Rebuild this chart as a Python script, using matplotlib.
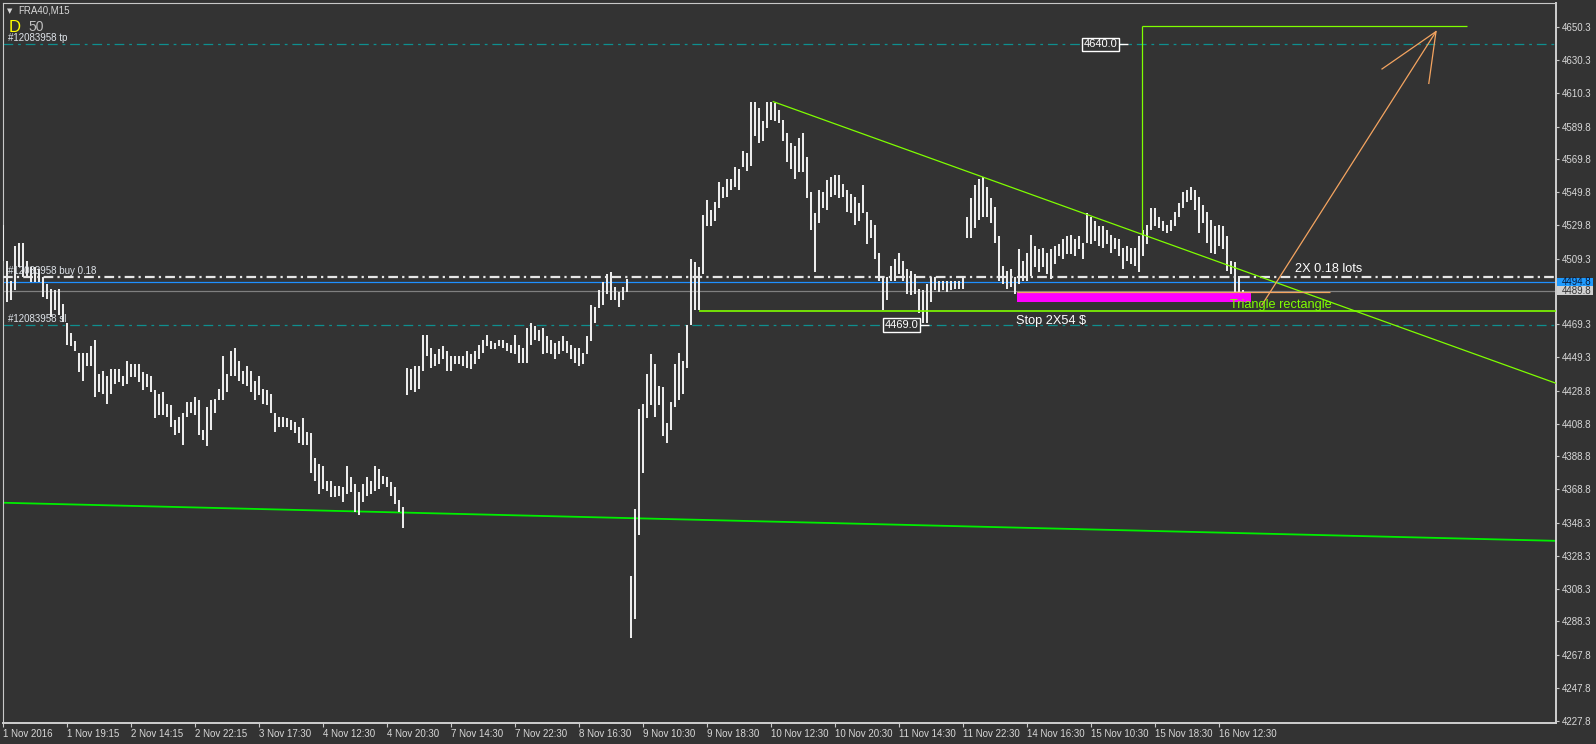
import matplotlib
matplotlib.use('Agg')
import matplotlib.pyplot as plt
from matplotlib.patches import Rectangle
from matplotlib.transforms import blended_transform_factory

plt.rcParams['font.family'] = ['Liberation Sans', 'DejaVu Sans']
plt.rcParams['lines.scale_dashes'] = False

# FRA40 M15 bars (one entry per two M15 bars)
highs = [
    4530, 4508, 4496, 4517, 4519, 4519, 4508, 4504, 4504, 4503,
    4498, 4494, 4491, 4490, 4491, 4482, 4470, 4464, 4459, 4452,
    4452, 4452, 4456, 4460, 4439, 4441, 4438, 4442, 4442, 4442,
    4438, 4447, 4445, 4445, 4445, 4440, 4439, 4438, 4429, 4427,
    4428, 4421, 4420, 4411, 4413, 4415, 4422, 4422, 4425, 4423,
    4405, 4419, 4423, 4424, 4430, 4450, 4439, 4453, 4455, 4447,
    4441, 4444, 4441, 4435, 4438, 4430, 4429, 4427, 4415, 4413,
    4413, 4412, 4411, 4410, 4407, 4412, 4404, 4403, 4388, 4384,
    4383, 4374, 4374, 4371, 4371, 4370, 4383, 4376, 4372, 4367,
    4372, 4376, 4374, 4383, 4381, 4377, 4376, 4373, 4370, 4362,
    4358, 4443, 4442, 4444, 4444, 4463, 4463, 4455, 4451, 4454,
    4456, 4453, 4450, 4450, 4450, 4450, 4453, 4451, 4453, 4457,
    4460, 4463, 4459, 4458, 4460, 4460, 4458, 4457, 4463, 4457,
    4455, 4467, 4470, 4468, 4466, 4467, 4462, 4460, 4458, 4459,
    4462, 4459, 4457, 4455, 4455, 4452, 4462, 4481, 4480, 4490,
    4495, 4500, 4501, 4492, 4489, 4492, 4497, 4316, 4357, 4418,
    4421, 4439, 4451, 4445, 4432, 4431, 4409, 4422, 4445, 4452,
    4447, 4469, 4509, 4507, 4504, 4536, 4545, 4539, 4544, 4556,
    4553, 4558, 4558, 4565, 4564, 4575, 4574, 4605, 4605, 4601,
    4593, 4605, 4605, 4604, 4600, 4594, 4586, 4580, 4578, 4583,
    4586, 4571, 4550, 4537, 4551, 4550, 4557, 4559, 4560, 4560,
    4555, 4551, 4549, 4547, 4543, 4554, 4538, 4533, 4530, 4513,
    4498, 4498, 4505, 4509, 4513, 4508, 4503, 4502, 4500, 4491,
    4490, 4494, 4498, 4498, 4496, 4496, 4496, 4496, 4496, 4496,
    4498, 4535, 4546, 4554, 4558, 4559, 4553, 4546, 4541, 4523,
    4505, 4502, 4503, 4498, 4515, 4508, 4513, 4524, 4517, 4515,
    4516, 4513, 4515, 4517, 4518, 4521, 4523, 4524, 4521, 4523,
    4519, 4537, 4535, 4532, 4529, 4529, 4527, 4524, 4522, 4521,
    4516, 4517, 4516, 4516, 4523, 4527, 4530, 4540, 4540, 4535,
    4532, 4530, 4533, 4538, 4543, 4550, 4551, 4553, 4551, 4547,
    4542, 4538, 4533, 4529, 4530, 4529, 4523, 4508, 4507, 4499,
    4490,
]
lows = [
    4508, 4483, 4484, 4490, 4504, 4498, 4498, 4495, 4495, 4495,
    4486, 4485, 4474, 4478, 4475, 4471, 4457, 4456, 4453, 4440,
    4435, 4444, 4444, 4425, 4428, 4427, 4421, 4427, 4433, 4434,
    4432, 4433, 4437, 4437, 4434, 4429, 4431, 4428, 4412, 4414,
    4414, 4413, 4407, 4402, 4403, 4396, 4413, 4415, 4414, 4402,
    4399, 4395, 4405, 4415, 4423, 4423, 4428, 4438, 4438, 4435,
    4433, 4432, 4428, 4423, 4426, 4421, 4420, 4415, 4404, 4407,
    4407, 4407, 4405, 4403, 4397, 4396, 4396, 4379, 4374, 4366,
    4369, 4368, 4364, 4364, 4365, 4361, 4366, 4367, 4355, 4353,
    4361, 4365, 4366, 4368, 4369, 4372, 4370, 4365, 4360, 4355,
    4345, 4426, 4429, 4428, 4430, 4441, 4450, 4443, 4444, 4445,
    4448, 4441, 4441, 4445, 4445, 4444, 4443, 4442, 4445, 4448,
    4452, 4456, 4454, 4454, 4456, 4455, 4453, 4452, 4451, 4446,
    4446, 4446, 4457, 4460, 4459, 4451, 4452, 4451, 4448, 4451,
    4453, 4452, 4448, 4446, 4444, 4445, 4451, 4459, 4470, 4479,
    4481, 4488, 4484, 4484, 4480, 4484, 4489, 4278, 4290, 4341,
    4379, 4412, 4420, 4413, 4420, 4401, 4397, 4405, 4419, 4423,
    4427, 4443, 4469, 4478, 4478, 4500, 4529, 4529, 4532, 4540,
    4546, 4547, 4551, 4553, 4551, 4565, 4563, 4566, 4584, 4580,
    4581, 4589, 4594, 4593, 4592, 4581, 4568, 4564, 4558, 4562,
    4562, 4546, 4527, 4501, 4531, 4540, 4539, 4547, 4548, 4546,
    4547, 4538, 4537, 4530, 4532, 4537, 4518, 4522, 4509, 4496,
    4478, 4484, 4496, 4496, 4500, 4496, 4488, 4487, 4488, 4476,
    4470, 4470, 4483, 4490, 4489, 4490, 4489, 4490, 4491, 4491,
    4491, 4522, 4522, 4528, 4533, 4535, 4535, 4531, 4519, 4496,
    4494, 4491, 4492, 4488, 4494, 4496, 4496, 4499, 4504, 4501,
    4504, 4500, 4497, 4506, 4511, 4509, 4512, 4512, 4511, 4515,
    4509, 4519, 4518, 4520, 4517, 4516, 4518, 4513, 4515, 4511,
    4503, 4508, 4506, 4505, 4501, 4511, 4518, 4527, 4529, 4528,
    4526, 4525, 4526, 4529, 4535, 4540, 4544, 4545, 4539, 4525,
    4531, 4519, 4513, 4512, 4517, 4515, 4502, 4500, 4488, 4487,
    4488,
]

time_labels = ['1 Nov 2016', '1 Nov 19:15', '2 Nov 14:15', '2 Nov 22:15', '3 Nov 17:30',
               '4 Nov 12:30', '4 Nov 20:30', '7 Nov 14:30', '7 Nov 22:30', '8 Nov 16:30',
               '9 Nov 10:30', '9 Nov 18:30', '10 Nov 12:30', '10 Nov 20:30', '11 Nov 14:30',
               '11 Nov 22:30', '14 Nov 16:30', '15 Nov 10:30', '15 Nov 18:30', '16 Nov 12:30']
price_ticks = [4650.3, 4630.3, 4610.3, 4589.8, 4569.8, 4549.8, 4529.8, 4509.3, 4469.3,
               4449.3, 4428.8, 4408.8, 4388.8, 4368.8, 4348.3, 4328.3, 4308.3, 4288.3,
               4267.8, 4247.8, 4227.8]

# order / price levels
buy_price = 4498.0
tp_price = 4640.0
sl_price = 4469.0
bid_price = 4494.8
ask_price = 4489.8

# drawn objects: (bar index, price)
support_pts = [(0, 4360.6), (388, 4337.4)]
triangle_top = [(192.5, 4605.0), (388.2, 4433.4)]
triangle_base = (173.9, 4477.4)
measure_x = 284.6
measure_lo, measure_hi = 4524.2, 4650.8
measure_end = 365.9
zone = (253.4, 311.9, 4483.2, 4488.8)
zone_line_end = 331.7
arrow_start = (314.7, 4481.2)
arrow_tip = (358.2, 4647.7)
arrow_head = [(344.7, 4624.9), (356.4, 4616.1)]

BG = '#333333'
FG = '#d8d8d8'
W, H = 1596, 744

fig = plt.figure(figsize=(W / 100, H / 100), dpi=100, facecolor=BG)
ax = fig.add_axes([3 / W, 21 / H, 1553 / W, 720 / H])
ax.set_facecolor(BG)
ax.set_xlim(-0.075, 388.2)
ax.set_ylim(4226.4, 4665.1)

x = list(range(len(highs)))
ax.vlines(x, lows, highs, colors='#ececec', lw=1.45, zorder=3)

# order lines
ax.axhline(buy_price, color='#e6e6e6', lw=1.6, ls=(0, (7, 3, 1.6, 3)), zorder=4)
ax.axhline(tp_price, color='#0e8f8f', lw=0.9, ls=(0, (7, 3.5, 2, 3.5)), zorder=2)
ax.axhline(sl_price, color='#0e8f8f', lw=0.9, ls=(0, (7, 3.5, 2, 3.5)), zorder=2)
ax.axhline(bid_price, color='#1e90ff', lw=0.9, zorder=2)
ax.axhline(ask_price, color='#808080', lw=0.9, zorder=2)

ax.text(1.2, buy_price + 0.6, '#12083958 buy 0.18', color='#dfe4ea', fontsize=7,
        va='bottom', zorder=5)
ax.text(1.2, tp_price + 0.6, '#12083958 tp', color='#dfe4ea', fontsize=7, va='bottom')
ax.text(1.2, sl_price + 0.6, '#12083958 sl', color='#dfe4ea', fontsize=7, va='bottom')

# trend lines
green = '#7fff00'
ax.axline(support_pts[0], support_pts[1], color='#00ee00', lw=1.3, zorder=2)
ax.plot([p[0] for p in triangle_top], [p[1] for p in triangle_top], color=green, lw=0.9, zorder=4)
ax.hlines(triangle_base[1], triangle_base[0], 388.2, color=green, lw=1.2, zorder=4)
ax.vlines(measure_x, measure_lo, measure_hi, color=green, lw=0.9, zorder=4)
ax.hlines(measure_hi, measure_x, measure_end, color=green, lw=0.9, zorder=4)

# target zone
ax.add_patch(Rectangle((zone[0], zone[2]), zone[1] - zone[0], zone[3] - zone[2],
                       facecolor='#ff00ff', edgecolor='none', zorder=4))
ax.hlines(zone[3], zone[0], zone_line_end, color='#f4a460', lw=0.9, zorder=4)

# arrow
ax.plot([arrow_start[0], arrow_tip[0]], [arrow_start[1], arrow_tip[1]], color='#f4a460', lw=0.9, zorder=4)
ax.plot([arrow_head[0][0], arrow_tip[0], arrow_head[1][0]],
        [arrow_head[0][1], arrow_tip[1], arrow_head[1][1]], color='#f4a460', lw=0.9, zorder=4)

# text labels
ax.text(253.2, 4471.4, 'Stop 2X54 $', color='white', fontsize=9.2, va='center', zorder=5)
ax.text(322.9, 4503.0, '2X 0.18 lots', color='white', fontsize=9.2, va='center', zorder=5)
ax.text(306.7, 4481.1, 'Triangle rectangle', color=green, fontsize=9.2, va='center', zorder=5)

box = dict(boxstyle='square,pad=0.15', facecolor=BG, edgecolor='white', lw=1)
ax.text(270.1, tp_price, '4640.0', color='white', fontsize=8, va='center', bbox=box, zorder=5)
ax.hlines(tp_price, 278.9, 281.2, color='white', lw=1, zorder=5)
ax.text(220.35, sl_price, '4469.0', color='white', fontsize=8, va='center', bbox=box, zorder=5)
ax.hlines(sl_price, 229.2, 231.4, color='white', lw=1, zorder=5)

# axes styling
for side in ['left', 'top']:
    ax.spines[side].set_color('#c8c8c8')
    ax.spines[side].set_linewidth(0.8)
for side in ['right', 'bottom']:
    ax.spines[side].set_color('#cfcfcf')
    ax.spines[side].set_linewidth(1.4)

ax.set_xticks(range(0, 16 * len(time_labels), 16))
ax.set_xticklabels(time_labels, ha='left')
ax.yaxis.tick_right()
ax.set_yticks(price_ticks)
ax.set_yticklabels([f'{v:.1f}' for v in price_ticks])
ax.tick_params(axis='x', direction='out', length=3, width=0.8, color='#c8c8c8',
               labelcolor=FG, labelsize=7, pad=1)
ax.tick_params(axis='y', direction='out', length=2, width=0.8, color='#c8c8c8',
               labelcolor=FG, labelsize=7, pad=2)

# current price labels on the right scale
tr = blended_transform_factory(ax.transAxes, ax.transData)
for val, bg, fg in [(bid_price, '#1e9bff', '#0a1a3a'), (ask_price, '#d0d0d0', '#333333')]:
    ax.add_patch(Rectangle((1.0008, val - 2.7), 0.0232, 5.4, transform=tr, facecolor=bg,
                           edgecolor='none', clip_on=False, zorder=6))
    ax.text(1.0038, val, f'{val:.1f}', transform=tr, color=fg, fontsize=7, va='center',
            clip_on=False, zorder=7)

# header
fig.text(7 / W, 1 - 11 / H, '\u25bc', color=FG, fontsize=5, va='center',
         family=['DejaVu Sans'])
fig.text(18 / W, 1 - 10.5 / H, 'FRA40,M15', color=FG, fontsize=7, va='center')
fig.text(9 / W, 1 - 27 / H, 'D', color='#ffff00', fontsize=12, va='center')
fig.text(28 / W, 1 - 27 / H, '50', color='#c0c0c0', fontsize=10, va='center')

fig.savefig('out.png', dpi=100, facecolor=BG)
